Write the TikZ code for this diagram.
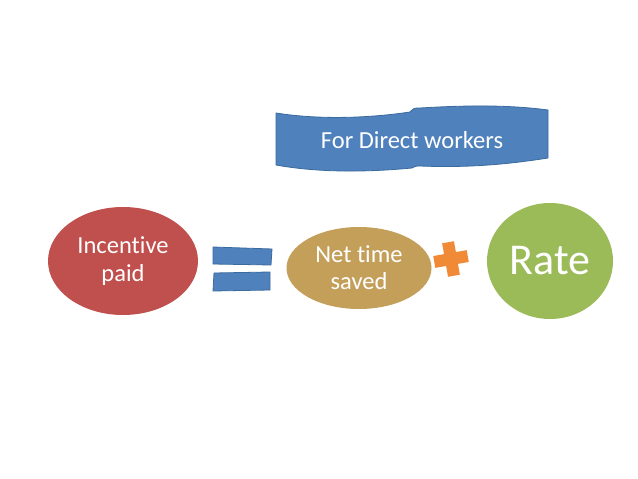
\documentclass[tikz,border=0pt]{standalone}
\usepackage{fontspec}
\setmainfont{Carlito}[RawFeature=-liga]
\usetikzlibrary{shapes.geometric}
\definecolor{cred}{HTML}{C0504D}
\definecolor{ctan}{HTML}{C39F5A}
\definecolor{cgreen}{HTML}{9BBB59}
\definecolor{cblue}{HTML}{4F81BD}
\definecolor{cblueedge}{HTML}{3A6A9E}
\definecolor{corange}{HTML}{F08A36}
\tikzset{
  oval/.style={ellipse, inner sep=0pt, text=white, align=center},
  bar/.style={fill=cblue, draw=cblueedge, line width=0.8pt},
}
\begin{document}
\begin{tikzpicture}[x=1pt,y=-1pt]
\useasboundingbox (0,0) rectangle (638,479);
\fill[white] (0,0) rectangle (638,479);
% banner
\draw[fill=cblue, draw=cblueedge, line width=0.8pt]
  (276,113) .. controls (320,120) and (370,118) .. (410,112)
  .. controls (414,108) .. (420,108)
  .. controls (470,105) and (510,105) .. (548,110)
  -- (548,158)
  .. controls (510,164) and (470,168) .. (420,166)
  .. controls (416,166) .. (412,168)
  .. controls (370,172) and (320,173) .. (276,165) -- cycle;
\node[text=white, font=\fontsize{24.5}{28}\selectfont] (banner) at (412,140) {For Direct workers};
% ellipses
\node[oval, fill=cred, minimum width=150pt, minimum height=108pt,
      font=\fontsize{24.5}{28}\selectfont] (incentive) at (123,261) {Incentive\\paid};
\node[oval, fill=ctan, minimum width=145pt, minimum height=82pt,
      font=\fontsize{24.5}{27}\selectfont] (net) at (359,268) {Net time\\saved};
\node[oval, fill=cgreen, minimum width=126pt, minimum height=116pt,
      font=\fontsize{44}{48}\selectfont] (rate) at (550,261) {Rate};
% equals bars
\draw[bar] (213,247) -- (272,249) -- (271,265) -- (213,264) -- cycle;
\draw[bar] (214,273) -- (270,272) -- (270,290) -- (213,291) -- cycle;
% plus sign
\node[inner sep=0pt, rotate=10] (plus) at (451,259) {%
  \tikz[x=1pt,y=1pt]\fill[corange] (-6,-17) rectangle (6,17) (-17,-6) rectangle (17,6);};
\end{tikzpicture}
\end{document}
